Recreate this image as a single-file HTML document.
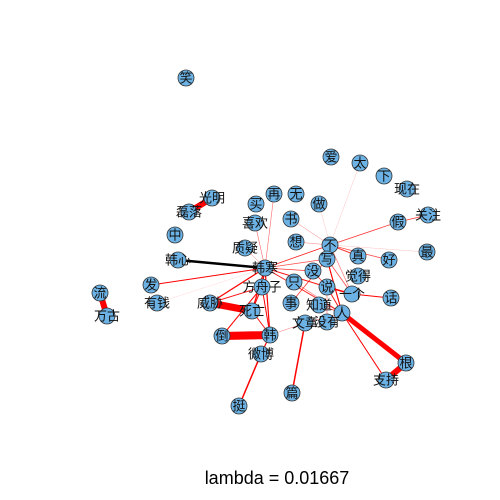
<!DOCTYPE html>
<html><head><meta charset="utf-8"><style>
body{margin:0;background:#fff}
svg{display:block}
text{font-family:"Liberation Sans","Noto Sans CJK SC",sans-serif}
</style></head><body>
<svg id="g" width="500" height="500">
<text x="277" y="484" font-size="18" text-anchor="middle">lambda = 0.01667</text>
</svg>
<script>
const nodeLabels=["笑","爱","太","下","现在","关注","假","最","好","真","不","做","无","再","买","喜欢","书","想","质疑","韩寒","写","没","觉得","只","说","一个","话","事","知道","人","文章","没有","方舟子","死亡","威胁","韩","倒","微博","挺","篇","根","支持","光明","磊落","中","韩心","发","有钱","流","万古"];
const nodeX=[186,331,360,384,407,428,398,427,389,358,330,319,296,274,256,255,291,296,245,265,327,313,358,294,327,352,391,291,319,342,305,327,262,252,210,270,222,261,239,292,406,386,212,189,175,178,151,157,100,107];
const nodeY=[78,157,163,176,189,215,222,252,260,256,245,204,194,194,204,223,219,242,248,268,259,271,276,282,287,294,298,303,305,313,323,322,287,311,303,335,336,354,406,393,363,380,198,212,235,260,285,303,293,316];
const edgeFrom=["光明","流","威胁","倒","人","根","韩心","韩寒","韩寒","韩寒","韩寒","韩寒","方舟子","方舟子","韩","微博","文章","人","人","一个","说","不","假","不","不","不","不","不","不","不","不","韩寒","韩寒","韩寒","韩寒","韩寒","韩寒","韩寒","说","说","写","没","事","知道","人","倒","死亡","韩","不","不","写","只","韩寒","威胁"];
const edgeTo=["磊落","万古","死亡","韩","根","支持","韩寒","发","威胁","方舟子","死亡","韩","韩","死亡","微博","挺","篇","支持","写","话","一个","假","关注","写","韩寒","好","真","太","做","书","最","再","喜欢","有钱","写","说","没","人","人","没有","人","说","写","人","文章","方舟子","韩","文章","想","一个","一个","人","质疑","方舟子"];
const edgeW=[6,6,7,8,5,6,2.5,1,1.2,1.2,1.2,1.2,1,1,1.2,1.5,1.5,1,1,1,1.5,0.8,0.8,1,0.8,0.8,1,0.4,0.4,0.5,0.4,0.6,0.6,0.4,0.8,1,0.8,1,1,0.6,1,0.8,0.8,0.8,0.6,1,1,0.6,0.5,0.6,0.8,0.6,0.5,1];
const edgeA=[1,1,1,1,1,1,1,1,1,1,1,1,1,1,1,1,1,1,1,1,1,0.8,0.8,1,0.9,0.7,0.8,0.3,0.3,0.5,0.3,0.6,0.6,0.2,0.7,0.9,0.8,0.9,0.9,0.6,0.9,0.8,0.8,0.8,0.6,1,0.9,0.5,0.5,0.6,0.7,0.6,0.5,0.9];
const svg=document.getElementById('g');
const NS='http://www.w3.org/2000/svg';
const idx=l=>nodeLabels.indexOf(l);
const eg=document.createElementNS(NS,'g');


svg.appendChild(eg);
edgeFrom.forEach((f,i)=>{const a=idx(f),b=idx(edgeTo[i]);if(a<0||b<0)return;
const ln=document.createElementNS(NS,'line');
ln.setAttribute('x1',nodeX[a]);ln.setAttribute('y1',nodeY[a]);ln.setAttribute('x2',nodeX[b]);ln.setAttribute('y2',nodeY[b]);
ln.setAttribute('stroke',f==='韩心'?'#000':'#f00');ln.setAttribute('stroke-width',edgeW[i]);ln.setAttribute('stroke-opacity',edgeA[i]);


eg.appendChild(ln);});
nodeLabels.forEach((l,i)=>{
const c=document.createElementNS(NS,'circle');
c.setAttribute('cx',nodeX[i]);c.setAttribute('cy',nodeY[i]);c.setAttribute('r',8);
c.setAttribute('fill','#6cb2e4');c.setAttribute('stroke','#333');c.setAttribute('stroke-width',0.8);


svg.appendChild(c);
const t=document.createElementNS(NS,'text');
t.setAttribute('x',nodeX[i]);t.setAttribute('y',nodeY[i]+4.5);t.setAttribute('font-size',13);t.setAttribute('text-anchor','middle');t.setAttribute('fill','#111');
t.textContent=l;


svg.appendChild(t);});
</script>
</body></html>
